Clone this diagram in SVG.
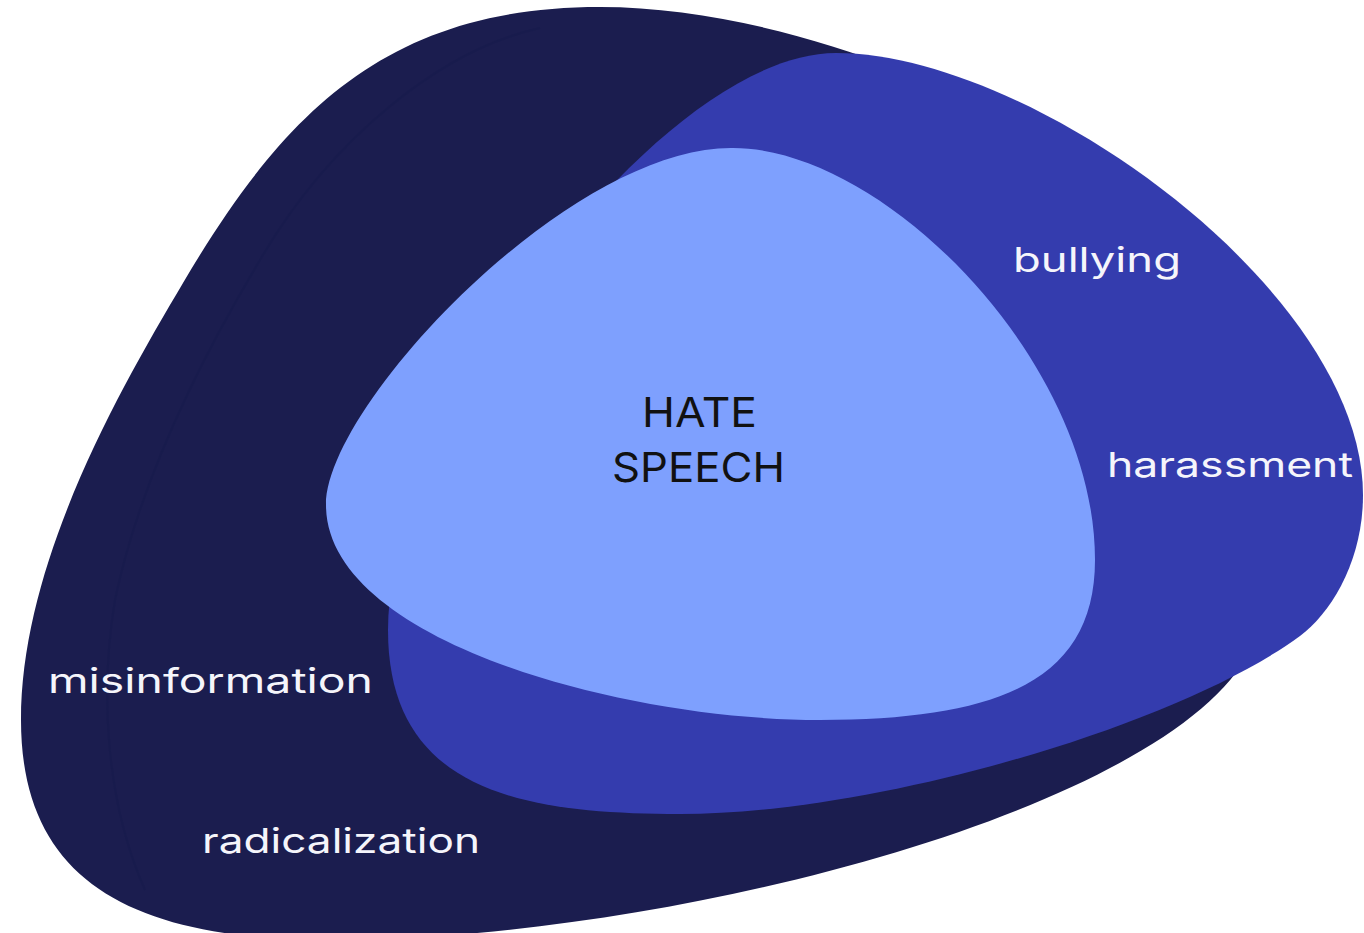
<svg xmlns="http://www.w3.org/2000/svg" width="1364" height="933" viewBox="0 0 1364 933">
  <style>
    .lbl { font-family: Inter, "DejaVu Sans", "Liberation Sans", sans-serif; font-size: 34px; fill: #F5F5FB; }
    .core-lbl { font-family: Inter, "DejaVu Sans", "Liberation Sans", sans-serif; font-size: 41px; fill: #111111; text-anchor: middle; }
    .outer { fill: #1B1D4F; }
    .middle { fill: #343CAE; }
    .core { fill: #7EA0FE; }
  </style>
  <rect width="1364" height="933" fill="#FFFFFF"/>

  <!-- outermost blob: broad harmful content -->
  <g id="outer-blob">
    <path class="outer" d="M 600,7 C 385,7 282,115 183,283 C 122,386 21,560 21,720 C 21,880 130,940 330,940 C 680,940 1175,805 1250,650 C 1293,560 1132,160 900,70 C 807,34 700,7 600,7 Z"/>
    <!-- faint inner seam -->
    <path d="M 540,28 C 440,50 330,140 260,260 C 200,360 140,480 115,600 C 100,690 105,800 145,890" fill="none" stroke="#15194A" stroke-width="2" stroke-opacity="0.35"/>
    <text class="lbl" x="48" y="693" textLength="325" lengthAdjust="spacingAndGlyphs">misinformation</text>
    <text class="lbl" x="202" y="853" textLength="278" lengthAdjust="spacingAndGlyphs">radicalization</text>
  </g>

  <!-- middle blob -->
  <g id="middle-blob">
    <path class="middle" d="M 836,53 C 1030,53 1363,290 1363,495 C 1363,560 1332,612 1300,636 C 1180,724 880,814 680,814 C 520,814 388,790 388,630 C 388,420 660,53 836,53 Z"/>
    <text class="lbl" x="1013" y="272" textLength="168" lengthAdjust="spacingAndGlyphs">bullying</text>
    <text class="lbl" x="1107" y="477" textLength="246" lengthAdjust="spacingAndGlyphs">harassment</text>
  </g>

  <!-- core blob -->
  <g id="core-blob">
    <path class="core" d="M 733,148 C 883,148 1095,360 1095,560 C 1095,680 1000,720 820,720 C 620,720 326,640 326,505 C 326,405 570,146 733,148 Z"/>
    <text class="core-lbl" x="699.5" y="427" textLength="115" lengthAdjust="spacingAndGlyphs">HATE</text>
    <text class="core-lbl" x="698.5" y="482" textLength="173" lengthAdjust="spacingAndGlyphs">SPEECH</text>
  </g>

  <g id="connectors"/>
</svg>
